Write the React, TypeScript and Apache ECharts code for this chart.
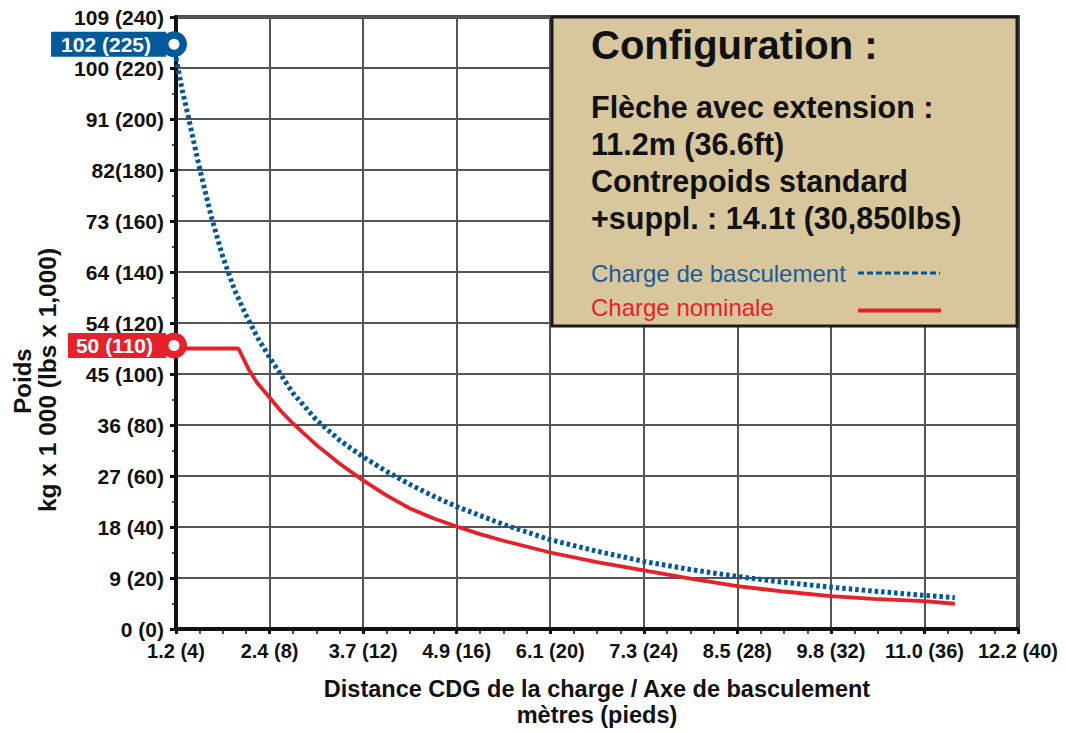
import React, { useEffect, useRef } from "react";
import * as echarts from "echarts";

// X axis: distance in feet (labels show metres (feet))
const xTickFeet = [4, 8, 12, 16, 20, 24, 28, 32, 36, 40];
const xTickLabels = ["1.2 (4)", "2.4 (8)", "3.7 (12)", "4.9 (16)", "6.1 (20)", "7.3 (24)", "8.5 (28)", "9.8 (32)", "11.0 (36)", "12.2 (40)"];

// Y axis: weight in lbs x 1000 (labels show kg x 1000 (lbs x 1000))
const yTickLbs = [0, 20, 40, 60, 80, 100, 120, 140, 160, 180, 200, 220, 240];
const yTickLabels = ["0 (0)", "9 (20)", "18 (40)", "27 (60)", "36 (80)", "45 (100)", "54 (120)", "64 (140)", "73 (160)", "82(180)", "91 (200)", "100 (220)", "109 (240)"];

// Charge de basculement (tipping load)
const tippingFeet = [4, 4.25, 4.5, 5, 5.5, 6, 6.5, 7, 7.5, 8, 9, 10, 11, 12, 13, 14, 15, 16, 18, 20, 22, 24, 26, 28, 30, 32, 34, 36, 37.3];
const tippingLbs = [224, 212, 202, 181, 162, 146, 133, 123, 114, 106.5, 92.5, 82, 74, 67.5, 61.8, 56.7, 52.1, 48, 41, 35, 30.5, 26.5, 23.3, 20.6, 18.3, 16.4, 14.7, 13.2, 12.3];

// Charge nominale (rated load)
const ratedFeet = [4, 6.67, 7.1, 7.45, 8, 8.5, 9, 10, 11, 12, 13, 14, 15, 16, 17, 18, 20, 22, 24, 26, 28, 30, 32, 33.8, 36, 37.3];
const ratedLbs = [110, 110, 102, 96.8, 90.8, 85.3, 80.6, 72.2, 64.8, 58.3, 52.4, 47.3, 43.4, 40.2, 37.2, 34.6, 30, 26.2, 23, 19.8, 16.8, 14.7, 12.9, 11.8, 10.9, 9.9];

const seriesNames = ["Charge de basculement", "Charge nominale"];
const pinFeet = [4, 4];
const pinLbs = [225, 110];
const pinLabels = ["102 (225)", "50 (110)"];

const configTitle = "Configuration :";
const configLines = ["Flèche avec extension :", "11.2m (36.6ft)", "Contrepoids standard", "+suppl. : 14.1t (30,850lbs)"];
const xAxisName = "Distance CDG de la charge / Axe de basculement\nmètres (pieds)";
const yAxisName = ["Poids", "kg x 1 000 (lbs x 1,000)"];

const BLUE = "#00599b";
const RED = "#e8202a";
const INK = "#111111";
const FONT = "'Liberation Sans', Arial, Helvetica, sans-serif";

function makePin(i: number, color: string, offset: number[], padding: number[]) {
  return {
    symbol: "circle",
    silent: true,
    data: [
      {
        coord: [pinFeet[i], pinLbs[i]],
        symbolSize: 26,
        symbolOffset: offset,
        itemStyle: { color },
        label: {
          show: true,
          position: "left",
          distance: -5,
          formatter: pinLabels[i],
          backgroundColor: color,
          color: "#ffffff",
          fontFamily: FONT,
          fontSize: 21,
          fontWeight: "bold",
          lineHeight: 21,
          padding,
        },
      },
      {
        coord: [pinFeet[i], pinLbs[i]],
        symbolSize: 11,
        symbolOffset: offset,
        itemStyle: { color: "#ffffff" },
        label: { show: false },
      },
    ],
  };
}

export default function App() {
  const ref = useRef<HTMLDivElement>(null);

  useEffect(() => {
    if (!ref.current) return;
    const chart = echarts.init(ref.current, null, { renderer: "svg" });

    const configTexts: any[] = configLines.map((t, i) => ({
      type: "text",
      x: 591,
      y: 107 + i * 37,
      z: 11,
      style: { text: t, fill: INK, font: `bold 30.5px ${FONT}`, verticalAlign: "middle", align: "left" },
    }));

    chart.setOption({
      animation: false,
      backgroundColor: "#ffffff",
      grid: { left: 176, right: 48, top: 17, bottom: 100, show: true, borderColor: INK, borderWidth: 3.5, backgroundColor: "transparent" },
      xAxis: {
        type: "value",
        min: 4,
        max: 40,
        interval: 4,
        name: xAxisName,
        nameLocation: "middle",
        nameGap: 47,
        nameTextStyle: { fontFamily: FONT, fontSize: 23.5, fontWeight: "bold", color: INK, lineHeight: 26 },
        axisLine: { show: true, onZero: false, lineStyle: { color: INK, width: 4 } },
        axisTick: { show: true, length: 5, lineStyle: { color: INK, width: 3 } },
        minorTick: { show: true, splitNumber: 4, length: 5, lineStyle: { color: INK, width: 1.5 } },
        splitLine: { show: true, lineStyle: { color: "#555555", width: 2 } },
        axisLabel: {
          margin: 12,
          fontFamily: FONT,
          fontSize: 20,
          fontWeight: "bold",
          color: INK,
          formatter: (v: number) => {
            const i = xTickFeet.indexOf(v);
            return i >= 0 ? xTickLabels[i] : "";
          },
        },
      },
      yAxis: {
        type: "value",
        min: 0,
        max: 240,
        interval: 20,
        axisLine: { show: true, onZero: false, lineStyle: { color: INK, width: 4 } },
        axisTick: { show: true, length: 6, lineStyle: { color: INK, width: 3 } },
        minorTick: { show: true, splitNumber: 2, length: 4, lineStyle: { color: INK, width: 1.5 } },
        splitLine: { show: true, lineStyle: { color: "#555555", width: 2 } },
        axisLabel: {
          margin: 12,
          fontFamily: FONT,
          fontSize: 21,
          fontWeight: "bold",
          color: INK,
          formatter: (v: number) => {
            const i = yTickLbs.indexOf(v);
            return i >= 0 ? yTickLabels[i] : "";
          },
        },
      },
      series: [
        {
          type: "line",
          name: seriesNames[0],
          data: tippingFeet.map((x, i) => [x, tippingLbs[i]]),
          showSymbol: false,
          smooth: false,
          z: 4,
          lineStyle: { color: BLUE, width: 5, type: [3.5, 3] },
          markPoint: makePin(0, BLUE, [-2, -11], [2, 15, 2, 10]),
        },
        {
          type: "line",
          name: seriesNames[1],
          data: ratedFeet.map((x, i) => [x, ratedLbs[i]]),
          showSymbol: false,
          smooth: false,
          z: 3,
          lineStyle: { color: RED, width: 3.8 },
          markPoint: makePin(1, RED, [-2, -3], [2, 13, 2, 8]),
        },
      ],
      graphic: [
        {
          type: "rect",
          z: 10,
          shape: { x: 552, y: 17, width: 465, height: 309 },
          style: { fill: "#d8c79d", stroke: "#1a1a1a", lineWidth: 3 },
        },
        {
          type: "text",
          x: 591,
          y: 45,
          z: 11,
          style: { text: configTitle, fill: INK, font: `bold 40px ${FONT}`, verticalAlign: "middle", align: "left" },
        },
        ...configTexts,
        {
          type: "text",
          x: 591,
          y: 273,
          z: 11,
          style: { text: seriesNames[0], fill: "#1a5a9a", font: `24px ${FONT}`, verticalAlign: "middle", align: "left" },
        },
        {
          type: "line",
          z: 11,
          shape: { x1: 858, y1: 273, x2: 940, y2: 273 },
          style: { stroke: BLUE, lineWidth: 3, lineDash: [6, 3] },
        },
        {
          type: "text",
          x: 591,
          y: 307,
          z: 11,
          style: { text: seriesNames[1], fill: RED, font: `24px ${FONT}`, verticalAlign: "middle", align: "left" },
        },
        {
          type: "line",
          z: 11,
          shape: { x1: 858, y1: 310.5, x2: 941, y2: 310.5 },
          style: { stroke: RED, lineWidth: 4 },
        },
        {
          type: "text",
          x: 22,
          y: 381,
          rotation: Math.PI / 2,
          z: 11,
          style: { text: yAxisName[0], fill: INK, font: `bold 24px ${FONT}`, verticalAlign: "middle", align: "center" },
        },
        {
          type: "text",
          x: 47,
          y: 380,
          rotation: Math.PI / 2,
          z: 11,
          style: { text: yAxisName[1], fill: INK, font: `bold 24.5px ${FONT}`, verticalAlign: "middle", align: "center" },
        },
      ],
    });

    return () => chart.dispose();
  }, []);

  return <div ref={ref} style={{ position: "fixed", left: 0, top: 0, width: 1066, height: 733 }} />;
}
